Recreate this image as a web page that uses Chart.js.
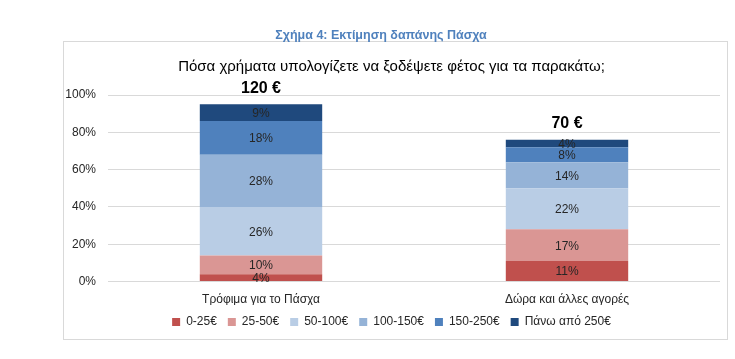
<!DOCTYPE html>
<html>
<head>
<meta charset="utf-8">
<script src="https://cdn.jsdelivr.net/npm/chart.js@4"></script>
<style>
  body { margin: 0; background: #fff; }
  #wrap { position: relative; width: 735px; height: 359px; }
</style>
</head>
<body>
<div id="wrap"><canvas id="spendChart" width="735" height="359"></canvas></div>
<script>
// Δεδομένα γραφήματος
const categories = ['Τρόφιμα για το Πάσχα', 'Δώρα και άλλες αγορές'];
const rangeLabels = ['0-25€', '25-50€', '50-100€', '100-150€', '150-250€', 'Πάνω από 250€'];
const share0to25 = [4, 11];
const share25to50 = [10, 17];
const share50to100 = [26, 22];
const share100to150 = [28, 14];
const share150to250 = [18, 8];
const shareOver250 = [9, 4];
const averageSpend = ['120 €', '70 €'];
const yTicks = [0, 20, 40, 60, 80, 100];

const seriesValues = [share0to25, share25to50, share50to100, share100to150, share150to250, shareOver250];
const colors = ['#c0504d', '#da9694', '#b9cde5', '#95b3d7', '#4f81bd', '#1f497d'];

// πλαίσιο και λεζάντα "Σχήμα 4"
const framePlugin = {
    id: 'frame',
    beforeDraw(chart) {
        const ctx = chart.ctx;
        ctx.save();
        ctx.fillStyle = '#fff';
        ctx.fillRect(0, 0, chart.width, chart.height);
        ctx.strokeStyle = '#d9d9d9';
        ctx.lineWidth = 1;
        ctx.strokeRect(63.5, 41.5, 664, 298);
        ctx.fillStyle = '#4f81bd';
        ctx.font = 'bold 12.5px "Liberation Sans", Arial, sans-serif';
        ctx.textAlign = 'center';
        ctx.textBaseline = 'middle';
        ctx.fillText('Σχήμα 4: Εκτίμηση δαπάνης Πάσχα', 381, 36);
        ctx.restore();
    }
};

// ετικέτες τιμών μέσα στις στήλες και σύνολα πάνω
const labelsPlugin = {
    id: 'segLabels',
    afterDatasetsDraw(chart) {
        const ctx = chart.ctx;
        ctx.save();
        ctx.textAlign = 'center';
        ctx.textBaseline = 'middle';
        ctx.font = '12px "Liberation Sans", Arial, sans-serif';
        ctx.fillStyle = '#262626';
        chart.data.datasets.forEach((ds, i) => {
            const meta = chart.getDatasetMeta(i);
            meta.data.forEach((bar, j) => {
                const y = (bar.y + bar.base) / 2;
                ctx.fillText(ds.data[j] + '%', bar.x, y + 1);
            });
        });
        const last = chart.getDatasetMeta(chart.data.datasets.length - 1);
        ctx.font = 'bold 16px "Liberation Sans", Arial, sans-serif';
        ctx.fillStyle = '#000';
        last.data.forEach((bar, j) => {
            ctx.fillText(averageSpend[j], bar.x, bar.y - 16);
        });
        ctx.restore();
    }
};

const ctx = document.getElementById('spendChart').getContext('2d');
const spendChart = new Chart(ctx, {
    type: 'bar',
    data: {
        labels: categories,
        datasets: rangeLabels.map((name, i) => ({
            label: name,
            data: seriesValues[i],
            backgroundColor: colors[i],
            borderWidth: 0,
            barPercentage: 0.4,
            categoryPercentage: 1
        }))
    },
    options: {
        responsive: false,
        animation: false,
        layout: {
            padding: { left: 63, right: 15, top: 44, bottom: 21 }
        },
        scales: {
            x: {
                stacked: true,
                afterFit(scale) { scale.height -= 5; },
                grid: { display: false },
                border: { display: false },
                ticks: {
                    color: '#262626',
                    padding: 3,
                    font: { family: '"Liberation Sans", Arial, sans-serif', size: 12 }
                }
            },
            y: {
                stacked: true,
                min: 0,
                max: 100,
                afterFit(scale) { scale.width = 45; },
                afterBuildTicks(scale) { scale.ticks = yTicks.map(v => ({ value: v })); },
                grid: { color: '#d9d9d9', drawTicks: false },
                border: { display: false },
                ticks: {
                    padding: 12,
                    color: '#262626',
                    font: { family: '"Liberation Sans", Arial, sans-serif', size: 12 },
                    callback: v => v + '%'
                }
            }
        },
        plugins: {
            legend: {
                position: 'bottom',
                labels: {
                    boxWidth: 8,
                    boxHeight: 8,
                    padding: 11,
                    color: '#262626',
                    font: { family: '"Liberation Sans", Arial, sans-serif', size: 12 }
                }
            },
            title: {
                display: true,
                text: 'Πόσα χρήματα υπολογίζετε να ξοδέψετε φέτος για τα παρακάτω;',
                color: '#000',
                font: { family: '"Liberation Sans", Arial, sans-serif', size: 15, weight: 'normal' },
                padding: { top: 14, bottom: 19 }
            },
            tooltip: { enabled: false }
        }
    },
    plugins: [framePlugin, labelsPlugin]
});
</script>
</body>
</html>
